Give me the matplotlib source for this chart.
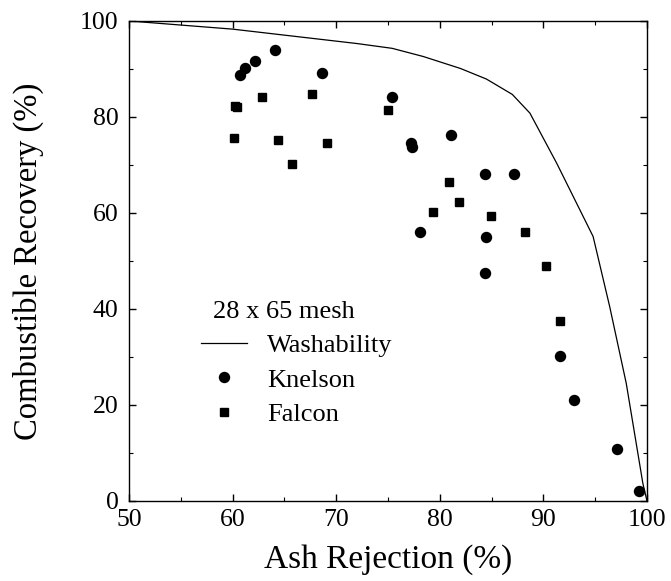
import numpy as np
import matplotlib
matplotlib.use('Agg')
import matplotlib.pyplot as plt
from matplotlib.ticker import MultipleLocator

plt.rcParams['font.family'] = ['Liberation Serif', 'DejaVu Serif']

# Curva de lavabilidade
wash_x = [50, 60, 72, 75.4, 78.4, 82, 84.5, 87, 88.7, 91.3, 94.8, 96.4, 98, 99.6, 100]
wash_y = [100, 98.3, 95.3, 94.3, 92.6, 90.1, 87.9, 84.7, 80.8, 70.3, 55.1, 40.5, 24.5, 3.7, 0]

# Knelson
knelson_x = [60.7, 61.2, 62.2, 64.1, 68.6, 75.4, 81.05, 77.2, 77.3, 84.4, 87.2, 78.1, 84.5,
             84.4, 91.6, 93.0, 97.1, 99.2]
knelson_y = [88.8, 90.3, 91.7, 93.9, 89.1, 84.1, 76.3, 74.5, 73.8, 68.2, 68.2, 56.0, 55.1,
             47.6, 30.3, 21.0, 10.8, 2.1]

# Falcon
falcon_x = [60.2, 60.4, 62.8, 67.7, 60.1, 64.4, 69.1, 65.7, 75.0, 80.9, 81.9, 79.3, 84.9,
            88.2, 90.3, 91.6]
falcon_y = [82.3, 82.1, 84.2, 84.8, 75.7, 75.2, 74.6, 70.2, 81.5, 66.4, 62.3, 60.3, 59.4,
            56.0, 48.9, 37.4]

fig = plt.figure(figsize=(6.71, 5.81), dpi=100)
ax = fig.add_axes([0.1923, 0.1377, 0.7719, 0.8262])

ax.plot(wash_x, wash_y, color='black', lw=0.9, label='Washability')
ax.plot(knelson_x, knelson_y, 'o', color='black', ms=7.2, ls='none', label='Knelson')
ax.plot(falcon_x, falcon_y, 's', color='black', ms=6.2, ls='none', label='Falcon')

ax.set_xlim(50, 100)
ax.set_ylim(0, 100)
ax.xaxis.set_major_locator(MultipleLocator(10))
ax.xaxis.set_minor_locator(MultipleLocator(5))
ax.yaxis.set_major_locator(MultipleLocator(20))
ax.yaxis.set_minor_locator(MultipleLocator(10))
ax.tick_params(which='both', direction='in', top=True, right=True, labelsize=18.5)
ax.tick_params(axis='x', which='major', pad=6)
ax.tick_params(axis='y', which='major', pad=7.5)
ax.tick_params(which='major', length=5, width=1)
ax.tick_params(which='minor', length=3, width=0.8)
for s in ax.spines.values():
    s.set_linewidth(1)

ax.set_xlabel('Ash Rejection (%)', fontsize=24)
ax.set_ylabel('Combustible Recovery (%)', fontsize=23.5)
ax.xaxis.set_label_coords(0.5, -0.089)
ax.yaxis.set_label_coords(-0.164, 0.5)

# titulo da legenda
ax.text(0.162, 0.394, '28 x 65 mesh', transform=ax.transAxes, fontsize=19,
        ha='left', va='center')
leg = ax.legend(loc='upper left', bbox_to_anchor=(0.139, 0.348),
                frameon=False, fontsize=19, handlelength=1.75,
                handletextpad=0.75, labelspacing=0.41, borderpad=0, borderaxespad=0,
                numpoints=1)

fig.savefig('out.png', dpi=100)
